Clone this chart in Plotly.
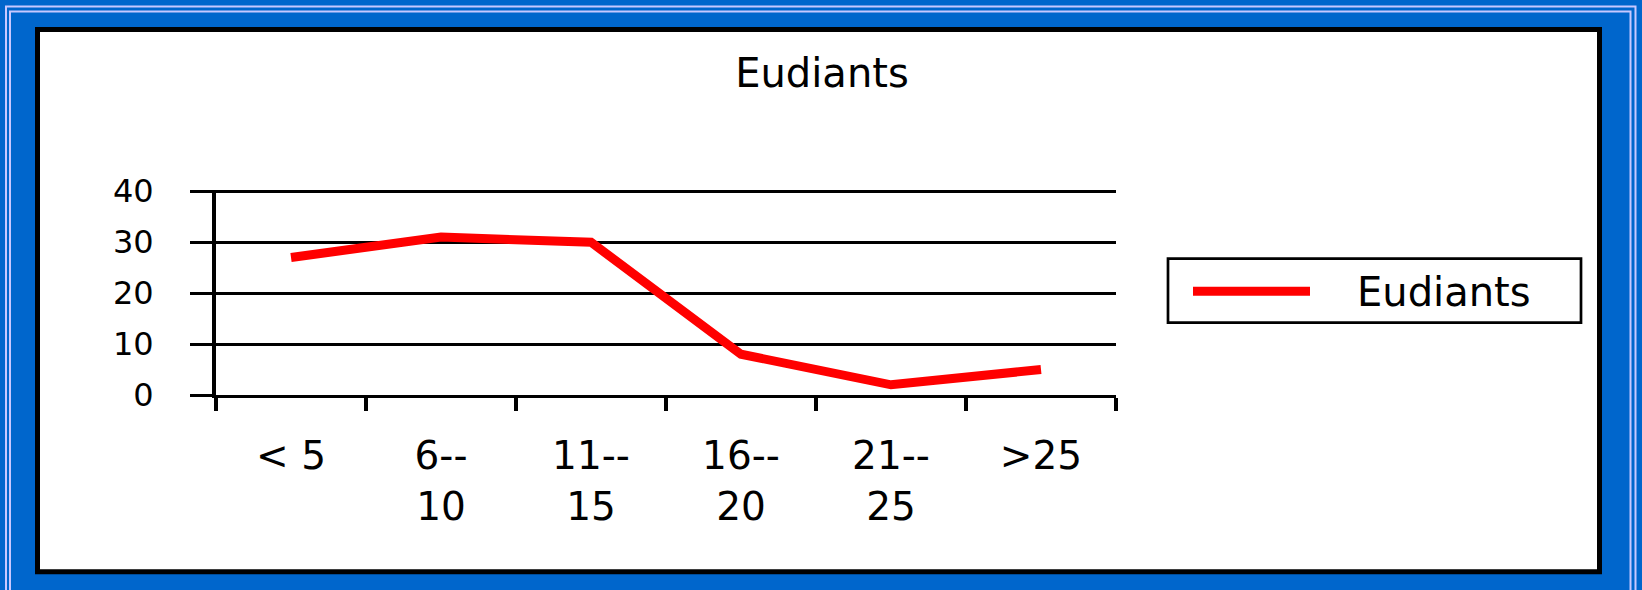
import plotly.graph_objects as go

# ---- data ----
categories = ["< 5", "6--<br>10", "11--<br>15", "16--<br>20", "21--<br>25", ">25"]
values = [27, 31, 30, 8, 2, 5]
y_ticks = [0, 10, 20, 30, 40]
series_name = "Eudiants"
chart_title = "Eudiants"

# ---- geometry (pixels) ----
W, H = 1642, 590
Y_TOP = 40.25                      # a little headroom so the 40 gridline is drawn
UNIT = 204 / 40                    # px per y unit
L, R, B = 216, 526, 195
T = 191 - (Y_TOP - 40) * UNIT
PW = W - L - R
PH = H - T - B


def px(x):
    return (x - L) / PW


def py(y):
    return 1 - (y - T) / PH


FONT = "DejaVu Sans"
BLUE = "#0066CC"
LAV = "#C8C8FF"

fig = go.Figure()
fig.add_trace(go.Scatter(
    x=categories, y=values, mode="lines", name=series_name,
    line=dict(color="#FF0000", width=9), showlegend=False,
))

shapes = [
    dict(type="rect", xref="paper", yref="paper", x0=px(6), x1=px(1635.5), y0=py(6), y1=py(640),
         line=dict(color=LAV, width=2), layer="below"),
    dict(type="rect", xref="paper", yref="paper", x0=px(10), x1=px(1630.5), y0=py(11), y1=py(640),
         line=dict(color=LAV, width=2), layer="below"),
    dict(type="rect", xref="paper", yref="paper", x0=px(37.5), x1=px(1599.5), y0=py(29), y1=py(572),
         line=dict(color="black", width=5), fillcolor="white", layer="below"),
    # manual legend
    dict(type="rect", xref="paper", yref="paper", x0=px(1168), x1=px(1581), y0=py(258.5), y1=py(322.5),
         line=dict(color="black", width=2.7), fillcolor="white", layer="above"),
    dict(type="line", xref="paper", yref="paper", x0=px(1193), x1=px(1310), y0=py(291), y1=py(291),
         line=dict(color="#FF0000", width=9), layer="above"),
]

annotations = [
    dict(text=series_name, xref="paper", yref="paper", x=px(1444), y=py(292),
         xanchor="center", yanchor="middle", showarrow=False,
         font=dict(family=FONT, size=40, color="black")),
]

fig.update_layout(
    width=W, height=H,
    margin=dict(l=L, r=R, t=T, b=B, pad=0),
    paper_bgcolor=BLUE,
    plot_bgcolor="rgba(0,0,0,0)",
    showlegend=False,
    title=dict(text=chart_title, xref="container", yref="container",
               x=822 / W, y=1 - 73 / H, xanchor="center", yanchor="middle",
               font=dict(family=FONT, size=40, color="black")),
    shapes=shapes,
    annotations=annotations,
    xaxis=dict(
        type="category", range=[-0.5, len(categories) - 0.5],
        showgrid=False, zeroline=False,
        showline=True, linecolor="black", linewidth=3,
        ticks="outside", tickson="boundaries", ticklen=13, tickwidth=4, tickcolor="black",
        tickfont=dict(family=FONT, size=39, color="black"),
        ticklabelstandoff=24,
    ),
    yaxis=dict(
        range=[0, Y_TOP], tickvals=y_ticks, ticktext=[str(v) for v in y_ticks],
        showgrid=True, gridcolor="black", gridwidth=2.5, zeroline=False,
        showline=True, linecolor="black", linewidth=4,
        ticks="outside", ticklen=22, tickwidth=2.5, tickcolor="black",
        tickfont=dict(family=FONT, size=32, color="black"),
        ticklabelstandoff=30,
    ),
)

fig.write_html(
    "out.html",
    config={"displayModeBar": False},
    post_script="document.body.style.margin='0';document.body.style.overflow='hidden';",
)
